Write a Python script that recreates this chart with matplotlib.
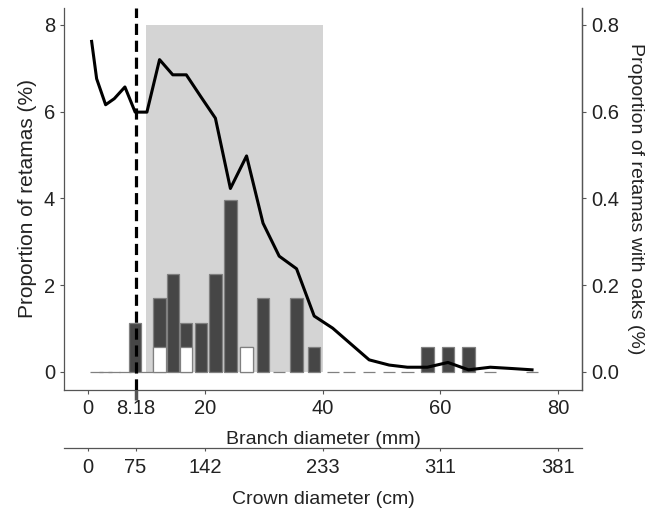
import numpy as np
import matplotlib
matplotlib.use('Agg')
import matplotlib.pyplot as plt

plt.rcParams['font.family'] = ['Liberation Sans', 'DejaVu Sans']

# bins along branch diameter (mm)
bin_mid = np.array([0.7, 1.55, 3.08, 4.55, 6.36, 8.1, 10.1, 12.25, 14.5, 16.8,
                    19.3, 21.75, 24.3, 27.05, 29.85, 32.6, 35.55, 38.55, 41.7, 44.5,
                    47.9, 51.3, 54.4, 57.8, 61.3, 64.8, 68.5, 72.2, 75.6])
# proportion of retamas (%) per bin, nan = no bar drawn
pct_all = np.array([np.nan, 0, 0, 0, 0, 1.13, 0, 1.695, 2.26, 1.13,
                    1.13, 2.26, 3.955, 0.565, 1.695, 0, 1.695, 0.565, 0, 0,
                    0, 0, 0, 0.565, 0.565, 0.565, 0, np.nan, 0])
# part of them growing with oaks (%)
pct_oak = np.array([0, 0, 0, 0, 0, 0, 0, 0.565, 0, 0.565,
                    0, 0, 0, 0.565, 0, 0, 0, 0, 0, 0,
                    0, 0, 0, 0, 0, 0, 0, 0, 0])
# proportion of retamas with oaks (right axis)
oak_line = np.array([0.762, 0.676, 0.616, 0.630, 0.657, 0.599, 0.599, 0.720, 0.685, 0.685,
                     0.634, 0.585, 0.423, 0.498, 0.343, 0.267, 0.238, 0.129, 0.101, 0.068,
                     0.028, 0.016, 0.011, 0.011, 0.022, 0.005, 0.011, 0.008, 0.005])

branch_ticks = [0, 8.18, 20, 40, 60, 80]
branch_labels = ['0', '8.18', '20', '40', '60', '80']
crown_labels = ['0', '75', '142', '233', '311', '381']
left_ticks = [0, 2, 4, 6, 8]
right_ticks = [0, 0.2, 0.4, 0.6, 0.8]
shade = (10, 40)
threshold = 8.18

spine_col = '#555555'
text_col = '#222222'

fig = plt.figure(figsize=(6.51, 5.13), dpi=100)
ax = fig.add_axes([64/651, 123/513, 518/651, 382/513])
ylim = (-0.415, 8.39)
ax.set_xlim(-4.0, 84.1)
ax.set_ylim(*ylim)

# shaded range
ax.fill_between(shade, 0, 8, color='#d4d4d4', lw=0, zorder=0)

ok = ~np.isnan(pct_all)
ax.bar(bin_mid[ok], pct_all[ok], width=2.1, color='#464646',
       edgecolor='#808080', lw=0.9, zorder=2)
w = pct_oak > 0
ax.bar(bin_mid[w], pct_oak[w], width=2.1, color='white',
       edgecolor='#808080', lw=0.9, zorder=3)

ax.set_xticks(branch_ticks, labels=branch_labels)
ax.set_yticks(left_ticks)
ax.set_ylabel('Proportion of retamas (%)', fontsize=15, color=text_col, labelpad=5)
ax.set_xlabel('Branch diameter (mm)', fontsize=14, color=text_col, labelpad=9)
ax.tick_params(labelsize=14.5, colors=spine_col, labelcolor=text_col, length=3, width=0.8)
ax.spines['top'].set_visible(False)
for s in ['left', 'bottom', 'right']:
    ax.spines[s].set_color(spine_col)
    ax.spines[s].set_linewidth(0.9)
t = ax.xaxis.get_major_ticks()[1]
t.tick1line.set_color('black')
t.tick1line.set_markeredgewidth(2.5)
t.tick1line.set_markersize(7)

# right axis
ax2 = ax.twinx()
ax2.set_ylim(ylim[0]/10, ylim[1]/10)
ax2.plot(bin_mid, oak_line, color='black', lw=2.2, zorder=5)
ax2.axvline(threshold, color='black', lw=2.3, dashes=(3.5, 1.8), zorder=6)
ax2.set_yticks(right_ticks, labels=[f'{v:.1f}' for v in right_ticks])
ax2.set_ylabel('Proportion of retamas with oaks (%)', fontsize=14, color=text_col,
               rotation=270, va='bottom', labelpad=6)
ax2.tick_params(labelsize=14.5, colors=spine_col, labelcolor=text_col, length=3, width=0.8)
ax2.spines['top'].set_visible(False)
ax2.spines['left'].set_visible(False)
ax2.spines['bottom'].set_visible(False)
ax2.spines['right'].set_color(spine_col)
ax2.spines['right'].set_linewidth(0.9)

# crown diameter axis
sec = ax.secondary_xaxis(-0.152)
sec.set_xticks(branch_ticks, labels=crown_labels)
sec.tick_params(labelsize=14.5, colors=spine_col, labelcolor=text_col, length=2, width=0.8, pad=5)
sec.spines['bottom'].set_color(spine_col)
sec.spines['bottom'].set_linewidth(0.9)
sec.set_xlabel('Crown diameter (cm)', fontsize=14, color=text_col, labelpad=10)

fig.savefig('out.png', dpi=100)
